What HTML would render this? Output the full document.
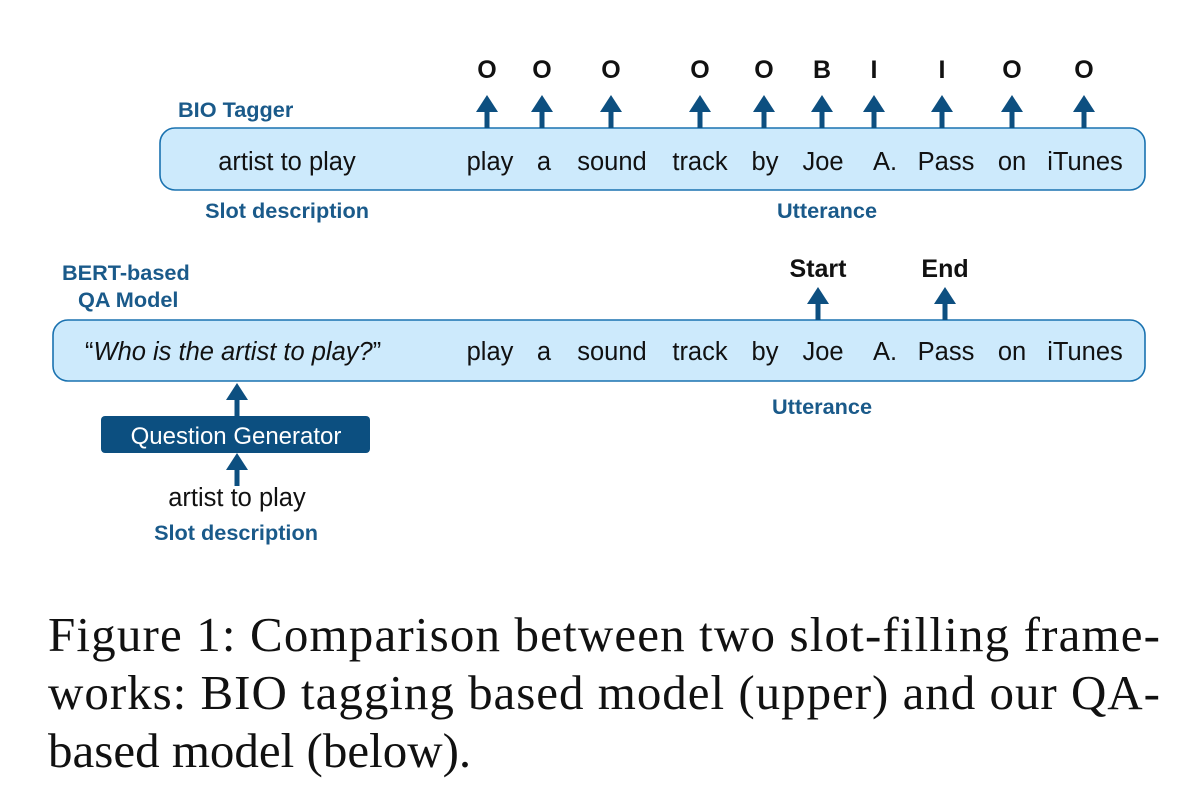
<!DOCTYPE html>
<html><head><meta charset="utf-8"><style>
html,body{margin:0;padding:0;background:#fff;}
svg{display:block;}
.w{font-family:"Liberation Sans",sans-serif;font-size:25.5px;fill:#111;}
.tag{font-family:"Liberation Sans",sans-serif;font-size:25px;font-weight:bold;fill:#111;}
.lb{font-family:"Liberation Sans",sans-serif;font-size:21.7px;font-weight:bold;fill:#1a5a8a;}
.cap{font-family:"Liberation Serif",serif;font-size:49px;fill:#111;}
</style></head><body>
<svg id="fig" width="1188" height="798" viewBox="0 0 1188 798">
<defs>
<g id="arr"><rect x="-2.5" y="16" width="5" height="17" fill="#0d4f80"/><polygon points="-11,17 11,17 0,0" fill="#0d4f80"/></g>
</defs>
<rect x="160" y="128" width="985" height="62" rx="15" fill="#cdeafc" stroke="#1a72b0" stroke-width="1.6"/>
<rect x="53" y="320" width="1092" height="61" rx="15" fill="#cdeafc" stroke="#1a72b0" stroke-width="1.6"/>
<text class="lb" x="178" y="117">BIO Tagger</text>
<text class="w" x="287" y="170" text-anchor="middle">artist to play</text>
<text class="lb" x="287" y="218" text-anchor="middle">Slot description</text>
<text class="lb" x="827" y="218" text-anchor="middle">Utterance</text>
<g id="words1"></g><g id="words2"></g><g id="tags"></g>
<text class="lb" x="62" y="280">BERT-based</text>
<text class="lb" x="78" y="307">QA Model</text>
<text class="w" x="85" y="360">“<tspan font-style="italic">Who is the artist to play?</tspan>”</text>
<text class="tag" x="818" y="277" text-anchor="middle">Start</text>
<text class="tag" x="945" y="277" text-anchor="middle">End</text>
<use href="#arr" x="818" y="287"/>
<use href="#arr" x="945" y="287"/>
<text class="lb" x="822" y="414" text-anchor="middle">Utterance</text>
<use href="#arr" x="237" y="383"/>
<rect x="101" y="416" width="269" height="37" rx="4" fill="#0c4f80"/>
<text x="236" y="444" text-anchor="middle" font-family="Liberation Sans, sans-serif" font-size="24" fill="#fff">Question Generator</text>
<use href="#arr" x="237" y="453"/>
<text class="w" x="237" y="506" text-anchor="middle">artist to play</text>
<text class="lb" x="236" y="540" text-anchor="middle">Slot description</text>
<text class="cap" x="48" y="651" textLength="1112" lengthAdjust="spacing">Figure 1:  Comparison between two slot-filling frame-</text>
<text class="cap" x="48" y="709" textLength="1112" lengthAdjust="spacing">works: BIO tagging based model (upper) and our QA-</text>
<text class="cap" x="48" y="767">based model (below).</text>
</svg>
<script>
const words=["play","a","sound","track","by","Joe","A.","Pass","on","iTunes"];
const wordX=[490,544,612,700,765,823,885,946,1012,1085];
const tags=["O","O","O","O","O","B","I","I","O","O"];
const tagX=[487,542,611,700,764,822,874,942,1012,1084];
const NS="http://www.w3.org/2000/svg";
function mk(parent,x,y,txt,cls){const t=document.createElementNS(NS,"text");t.setAttribute("x",x);t.setAttribute("y",y);t.setAttribute("text-anchor","middle");t.setAttribute("class",cls);t.textContent=txt;parent.appendChild(t);return t;}
const w1=document.getElementById("words1"),w2=document.getElementById("words2"),tg=document.getElementById("tags");
words.forEach((w,i)=>{
 const a=mk(w1,wordX[i],170,w,"w");
 
 
 const b=mk(w2,wordX[i],360,w,"w");
 
 
});
tags.forEach((t,i)=>{
 const e=mk(tg,tagX[i],78,t,"tag");
 
 
 const u=document.createElementNS(NS,"use");
 u.setAttribute("href","#arr");u.setAttribute("x",tagX[i]);u.setAttribute("y",95);
 
 
 tg.appendChild(u);
});
</script>
</body></html>
